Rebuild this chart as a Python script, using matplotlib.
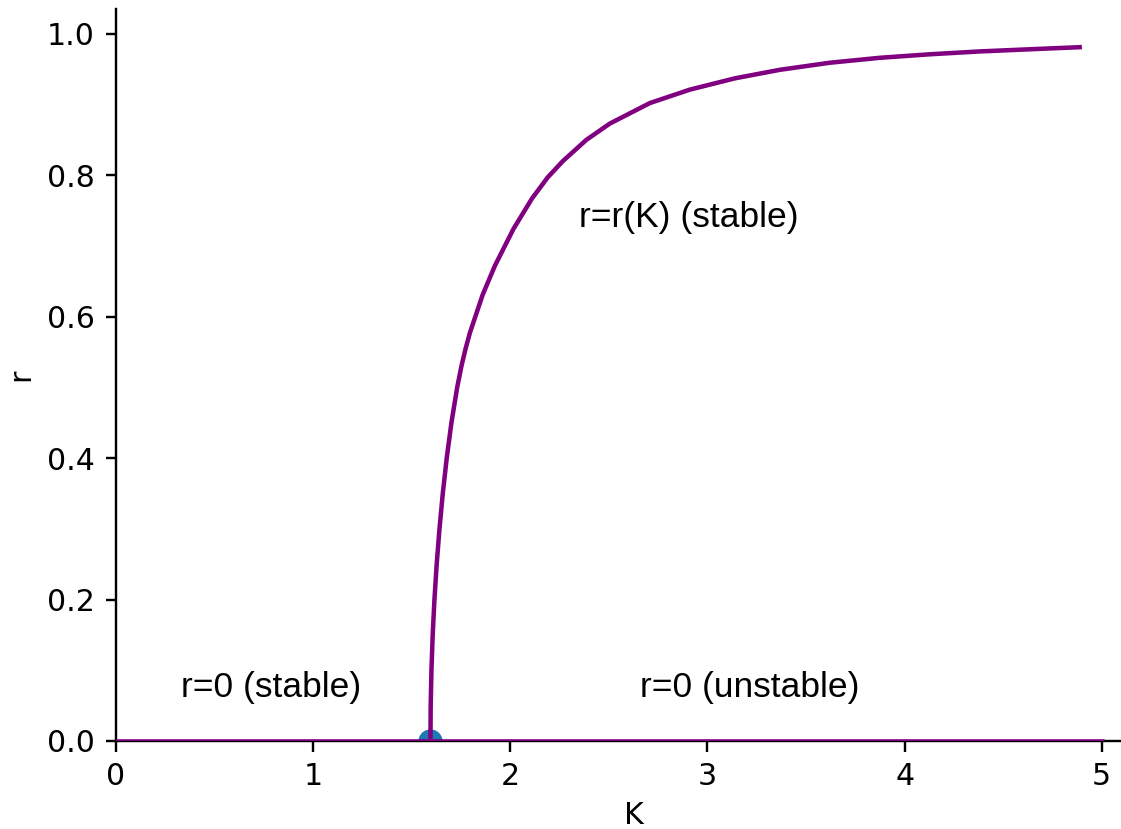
import matplotlib
matplotlib.use("Agg")
import matplotlib.pyplot as plt

plt.rcParams["font.family"] = ["DejaVu Sans"]

# Data
K_c = 1.595
K_curve = [1.595, 1.5963, 1.6001, 1.6064, 1.6153, 1.6267, 1.6408, 1.6576, 1.6776,
           1.7014, 1.7307, 1.7522, 1.7735, 1.795, 1.860, 1.922, 2.016, 2.110,
           2.190, 2.267, 2.386, 2.505, 2.708, 2.911, 3.140, 3.367, 3.620, 3.874,
           4.130, 4.381, 4.630, 4.888]
r_curve = [0.000, 0.050, 0.100, 0.150, 0.200, 0.250, 0.300, 0.350, 0.400,
           0.450, 0.500, 0.530, 0.555, 0.577, 0.631, 0.672, 0.724, 0.767,
           0.797, 0.820, 0.850, 0.873, 0.902, 0.921, 0.937, 0.949, 0.959, 0.966,
           0.971, 0.975, 0.978, 0.981]
K_zero = [0.0, 5.0]
r_zero = [0.0, 0.0]

labels = ["r=0 (stable)", "r=0 (unstable)", "r=r(K) (stable)"]
label_K = [0.33, 2.66, 2.35]
label_r = [0.062, 0.062, 0.727]

DPI = 216
W, H = 1121, 829
x0, x1 = 116, 1151          # axes spans past the right edge (cropped like the reference)
y0, y1 = 741, 9
fig = plt.figure(figsize=(W / DPI, H / DPI), dpi=DPI)
ax = fig.add_axes([x0 / W, 1 - y0 / H, (x1 - x0) / W, (y0 - y1) / H])

ax.scatter([K_c], [0.0], s=50, color="C0", zorder=2)
ax.plot(K_zero, r_zero, color="purple", lw=1.5, zorder=3)
ax.plot(K_curve, r_curve, color="purple", lw=1.5, zorder=3)

for t, kx, ry in zip(labels, label_K, label_r):
    ax.text(kx, ry, t, fontsize=11.8, family="Liberation Sans",
            ha="left", va="baseline")

ax.set_xlim(0, 5.25)
ax.set_ylim(0, 1.035)
ax.set_xticks([0, 1, 2, 3, 4, 5])
ax.set_yticks([0.0, 0.2, 0.4, 0.6, 0.8, 1.0])
ax.spines["top"].set_visible(False)
ax.spines["right"].set_visible(False)
ax.set_xlabel("K", labelpad=3.2)
ax.set_ylabel("r")

fig.savefig("out.png", dpi=DPI)
